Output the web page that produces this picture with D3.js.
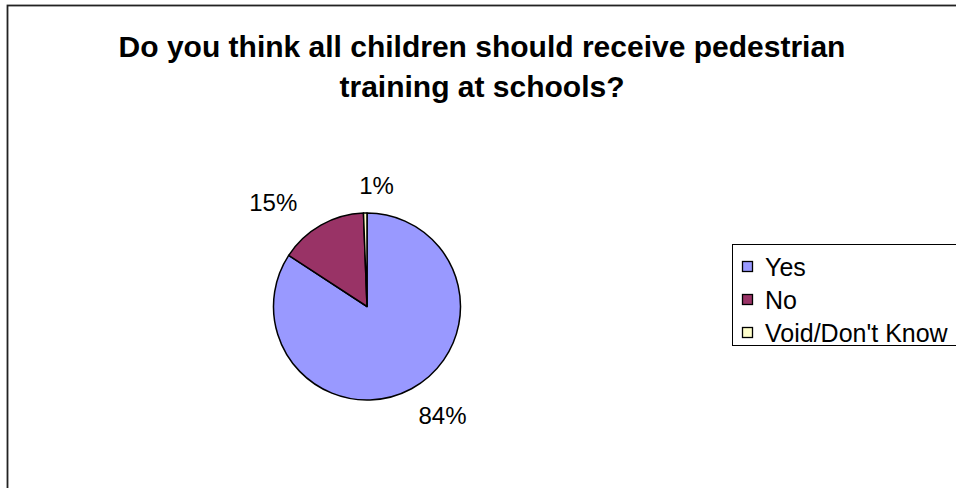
<!DOCTYPE html>
<html>
<head>
<meta charset="utf-8">
<script src="https://cdn.jsdelivr.net/npm/d3@7"></script>
<style>
  html, body { margin: 0; padding: 0; background: #fff; }
  svg { display: block; }
  text { font-family: "Liberation Sans", Arial, sans-serif; }
</style>
</head>
<body>
<svg id="chart" width="956" height="488"></svg>
<script>
const categories = ["Yes", "No", "Void/Don't Know"];
const values = [84.2, 15.2, 0.6];
const labels = ["84%", "15%", "1%"];
const colors = ["#9999FF", "#993366", "#FFFFCC"];
const titleLines = ["Do you think all children should receive pedestrian", "training at schools?"];

// layout nudges for the data labels (pixels)
const labelNudge = [[10, 2], [-26, 2], [12, 1]];

const svg = d3.select("#chart");

// outer chart border (cut off on right and bottom)
svg.append("rect")
  .attr("x", 7.5).attr("y", 5.5)
  .attr("width", 1100).attr("height", 600)
  .attr("fill", "#fff").attr("stroke", "#222").attr("stroke-width", 1.8);

// title
svg.append("g").selectAll("text").data(titleLines).join("text")
  .attr("x", 482).attr("y", (d, i) => 57 + i * 40)
  .attr("text-anchor", "middle")
  .attr("font-size", 30).attr("font-weight", "bold").attr("fill", "#000")
  .text(d => d);

// pie
const cx = 367, cy = 306.5, r = 93.5;
const data = categories.map((c, i) => ({ cat: c, value: values[i], label: labels[i], color: colors[i], i }));
const pie = d3.pie().sort(null).value(d => d.value);
const arcs = pie(data);
const arc = d3.arc().innerRadius(0).outerRadius(r);
const g = svg.append("g").attr("transform", `translate(${cx},${cy})`);
g.selectAll("path").data(arcs).join("path")
  .attr("d", arc)
  .attr("fill", d => d.data.color)
  .attr("stroke", "#000").attr("stroke-width", 1.5).attr("stroke-linejoin", "round");

// labels
const fs = 24;
g.selectAll("text").data(arcs).join("text")
  .attr("font-size", fs).attr("fill", "#000")
  .attr("text-anchor", "middle")
  .each(function(d) {
    const a = (d.startAngle + d.endAngle) / 2;
    const dx = Math.sin(a), dy = -Math.cos(a);
    const el = d3.select(this).text(d.data.label);
    const w = this.getComputedTextLength();
    const h = 17;
    const px = dx * (r + 20), py = dy * (r + 20);
    const nudge = labelNudge[d.data.i];
    const x = px + dx * w / 2 + nudge[0], y = py + dy * h / 2 + nudge[1];
    el.attr("x", x).attr("y", y + h / 2);
  });

// legend
const lx = 732, ly = 244;
svg.append("rect")
  .attr("x", lx + 0.5).attr("y", ly + 0.5)
  .attr("width", 400).attr("height", 101)
  .attr("fill", "#fff").attr("stroke", "#000").attr("stroke-width", 1);
const lg = svg.append("g");
const items = lg.selectAll("g").data(data).join("g")
  .attr("transform", (d, i) => `translate(${lx + 10},${ly + 17 + i * 33})`);
items.append("rect")
  .attr("x", 0.5).attr("y", 0.5).attr("width", 10).attr("height", 10)
  .attr("fill", d => d.color).attr("stroke", "#000").attr("stroke-width", 1.3);
items.append("text")
  .attr("x", 23).attr("y", 15)
  .attr("font-size", 25).attr("fill", "#000")
  .text(d => d.cat);
</script>
</body>
</html>
